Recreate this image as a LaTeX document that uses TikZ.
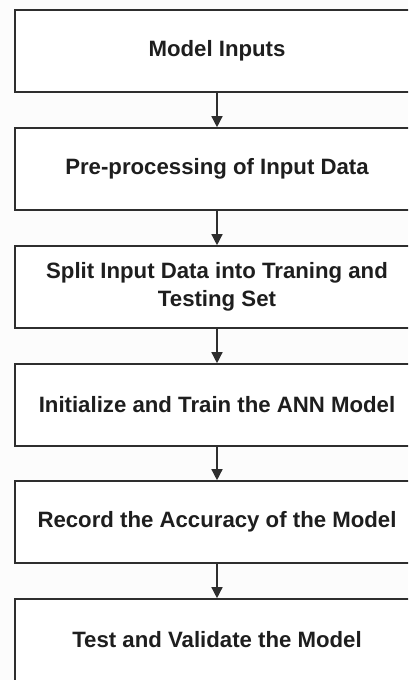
\documentclass[tikz,border=0pt]{standalone}
\usepackage{fontspec}
\setmainfont{Liberation Sans}
\usetikzlibrary{arrows.meta}
\definecolor{inkline}{HTML}{2E2E2E}
\definecolor{inktext}{HTML}{1E1E1E}
\definecolor{paper}{HTML}{FCFCFC}
\tikzset{
  flowbox/.style={draw=inkline, line width=1.6pt, fill=white, rectangle,
    minimum width=404pt, minimum height=82pt, inner sep=0pt,
    text=inktext, align=center,
    font=\bfseries\fontsize{22.2}{28}\selectfont},
  flowarrow/.style={draw=inkline, line width=1.4pt,
    -{Triangle[width=11pt,length=11pt]}}
}
\begin{document}
\begin{tikzpicture}[x=1pt,y=1pt]
  \useasboundingbox (0,0) rectangle (408,-680);
  \clip (0,0) rectangle (408,-680);
  \fill[paper] (0,0) rectangle (408,-680);
  \node[flowbox] (b1) at (217,-51)  {Model Inputs};
  \node[flowbox] (b2) at (217,-169) {Pre-processing of Input Data};
  \node[flowbox] (b3) at (217,-287) {Split Input Data into Traning and\\Testing Set};
  \node[flowbox] (b4) at (217,-405) {Initialize and Train the ANN Model};
  \node[flowbox] (b5) at (217,-522) {Record the Accuracy of the Model};
  \node[flowbox] (b6) at (217,-640) {Test and Validate the Model};
  \draw[flowarrow] (b1.south) -- (b2.north);
  \draw[flowarrow] (b2.south) -- (b3.north);
  \draw[flowarrow] (b3.south) -- (b4.north);
  \draw[flowarrow] (b4.south) -- (b5.north);
  \draw[flowarrow] (b5.south) -- (b6.north);
\end{tikzpicture}
\end{document}
